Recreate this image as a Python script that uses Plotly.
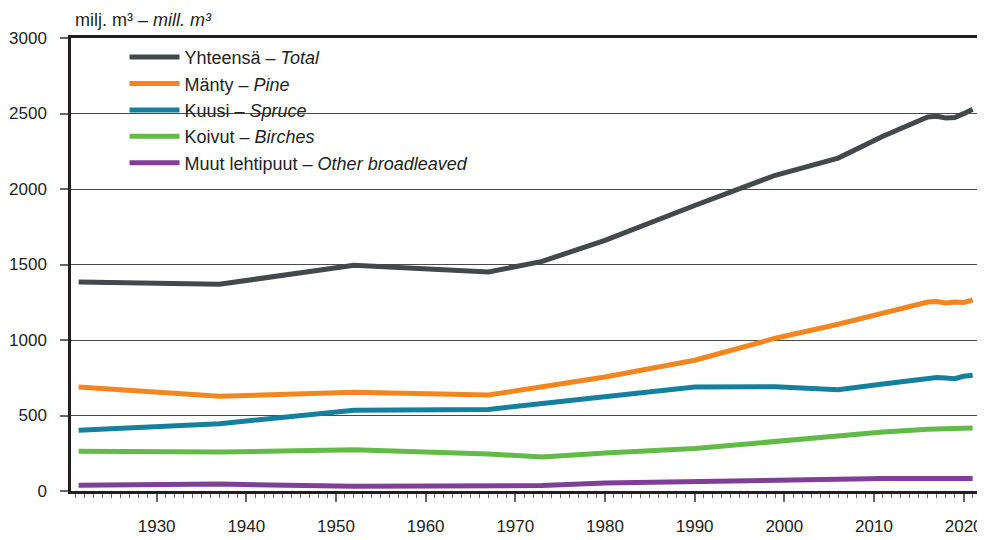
import plotly.graph_objects as go

years = [1921.3, 1937, 1952, 1967, 1973, 1980, 1990, 1999, 2006, 2011,
         2016, 2017, 2018, 2019, 2020, 2021]

total = [1384, 1369, 1495, 1450, 1521, 1660, 1891, 2091, 2205, 2350,
         2477, 2481, 2470, 2473, 2499, 2528]
pine = [689, 627, 654, 636, 690, 755, 866, 1012, 1104, 1175,
        1252, 1255, 1245, 1252, 1248, 1265]
spruce = [402, 446, 534, 540, 579, 623, 689, 691, 671, 709,
          746, 751, 748, 744, 760, 766]
birch = [263, 258, 274, 245, 225, 252, 281, 329, 362, 391,
         409, 411, 409, 409, 415, 417]
other = [38, 46, 31, 33, 36, 53, 62, 75, 77, 82,
         82, 82, 81, 82, 82, 82]

series_names = [
    "Yhteensä – <i>Total</i>",
    "Mänty – <i>Pine</i>",
    "Kuusi – <i>Spruce</i>",
    "Koivut – <i>Birches</i>",
    "Muut lehtipuut – <i>Other broadleaved</i>",
]
series_values = [total, pine, spruce, birch, other]
colors = ["#45484b", "#f5861f", "#14809e", "#62bb46", "#7f3f98"]

y_tick_vals = [0, 500, 1000, 1500, 2000, 2500, 3000]
x_tick_vals = [1930, 1940, 1950, 1960, 1970, 1980, 1990, 2000, 2010, 2020]

FONT = "Liberation Sans, Arial, sans-serif"

fig = go.Figure()
for name, vals, col in zip(series_names, series_values, colors):
    fig.add_trace(go.Scatter(
        x=years, y=vals, name=name, mode="lines",
        line=dict(color=col, width=5),
    ))

# white panel behind the legend (interrupts the 2500 gridline, as in the reference)
fig.add_shape(
    type="rect", xref="paper", yref="paper",
    x0=(110 - 71) / 907, x1=(513 - 71) / 907,
    y0=(491 - 176) / 453, y1=(491 - 42) / 453,
    fillcolor="white", line=dict(width=0), layer="between",
)

# the page body adds an 8px offset, so the figure is 8px smaller than the window
fig.update_layout(
    width=977, height=532,
    margin=dict(l=63, r=7, t=30, b=49, autoexpand=False),
    paper_bgcolor="white", plot_bgcolor="white",
    font=dict(family=FONT, size=17, color="#231f20"),
    showlegend=True,
    legend=dict(
        x=0.059, y=0.998, xanchor="left", yanchor="top",
        bgcolor="rgba(0,0,0,0)", borderwidth=0,
        font=dict(family=FONT, size=18, color="#231f20"),
        itemwidth=50, tracegroupgap=0,
    ),
    xaxis=dict(
        range=[1920.45, 2021.6],
        tickvals=x_tick_vals,
        ticks="outside", ticklen=8, tickcolor="#666", tickwidth=1.5,
        minor=dict(dtick=1, tick0=1920, ticks="outside", ticklen=4,
                   tickcolor="#666", tickwidth=1),
        showgrid=False, zeroline=False,
        showline=True, linecolor="#231f20", linewidth=2.5, mirror=True,
        ticklabelstandoff=10,
        automargin=False,
        tickfont=dict(family=FONT, size=17, color="#231f20"),
    ),
    yaxis=dict(
        range=[0, 3000],
        tickvals=y_tick_vals,
        ticks="outside", ticklen=8, tickcolor="#666", tickwidth=1.5,
        showgrid=True, gridcolor="#4a4a4a", gridwidth=1,
        zeroline=False,
        showline=True, linecolor="#231f20", linewidth=2.5, mirror=True,
        ticklabelstandoff=10,
        automargin=False,
        tickfont=dict(family=FONT, size=17, color="#231f20"),
    ),
    annotations=[dict(
        x=0.002, y=1.04, xref="paper", yref="paper",
        xanchor="left", yanchor="middle",
        text="milj. m³ – <i>mill. m³</i>", showarrow=False,
        font=dict(family=FONT, size=18, color="#231f20"),
    )],
)

fig.write_html("out.html")
